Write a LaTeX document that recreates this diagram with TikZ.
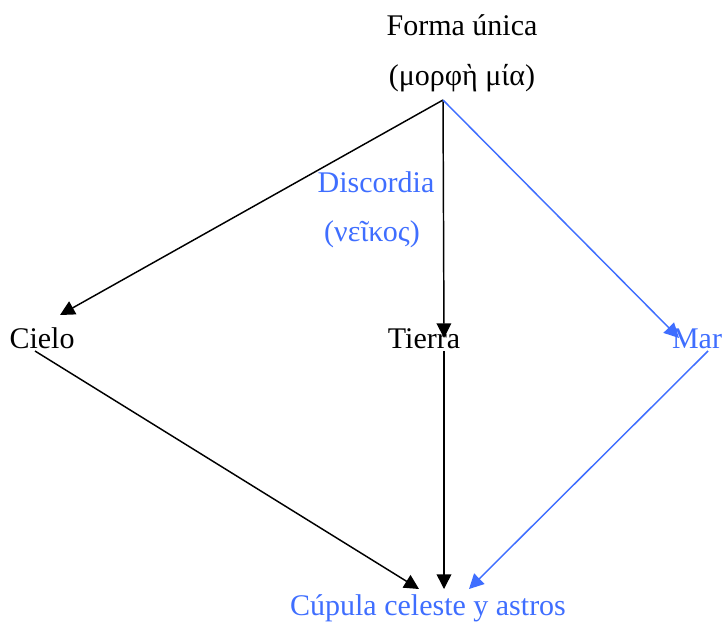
\documentclass[tikz,border=0pt]{standalone}
\usepackage{fontspec}
\setmainfont{Liberation Serif}
\usepackage{tikz}
\usetikzlibrary{arrows.meta}
\definecolor{discordblue}{HTML}{3F6EFF}

\begin{document}
\begin{tikzpicture}[
  x=0.75pt, y=-0.75pt,
  word/.style={inner sep=0pt, anchor=base, font=\fontsize{22.5}{27}\selectfont},
  blueword/.style={word, text=discordblue},
  arrow/.style={-{Triangle[length=11pt, width=11pt]}, line width=1.1pt, color=black},
  bluearrow/.style={arrow, color=discordblue}
]
\useasboundingbox (0,0) rectangle (723,625);
\node[word] (forma) at (462,35) {Forma única};
\node[word] (morfe) at (462,85) {(μορφὴ μία)};
\node[blueword] (discordia) at (376,192) {Discordia};
\node[blueword] (neikos) at (372,241) {(νεῖκος)};
\node[word] (cielo) at (42,348) {Cielo};
\node[word] (tierra) at (424,348) {Tierra};
\node[blueword] (mar) at (697,348) {Mar};
\node[blueword] (cupula) at (428,615) {Cúpula celeste y astros};
% puntos de llegada de las flechas
\coordinate (apex) at (443,100);
\coordinate (cielo-in) at (60,315);
\coordinate (tierra-in) at (444,338);
\coordinate (mar-in) at (679,338);
\coordinate (cielo-out) at (35,351);
\coordinate (tierra-out) at (444,351);
\coordinate (mar-out) at (708,351);
\coordinate (cupula-c) at (419,589);
\coordinate (cupula-t) at (444,589);
\coordinate (cupula-m) at (469,589);
\draw[arrow] (apex) -- (cielo-in);
\draw[arrow] (apex) -- (tierra-in);
\draw[bluearrow] (apex) -- (mar-in);
\draw[arrow] (cielo-out) -- (cupula-c);
\draw[arrow] (tierra-out) -- (cupula-t);
\draw[bluearrow] (mar-out) -- (cupula-m);
\end{tikzpicture}
\end{document}
